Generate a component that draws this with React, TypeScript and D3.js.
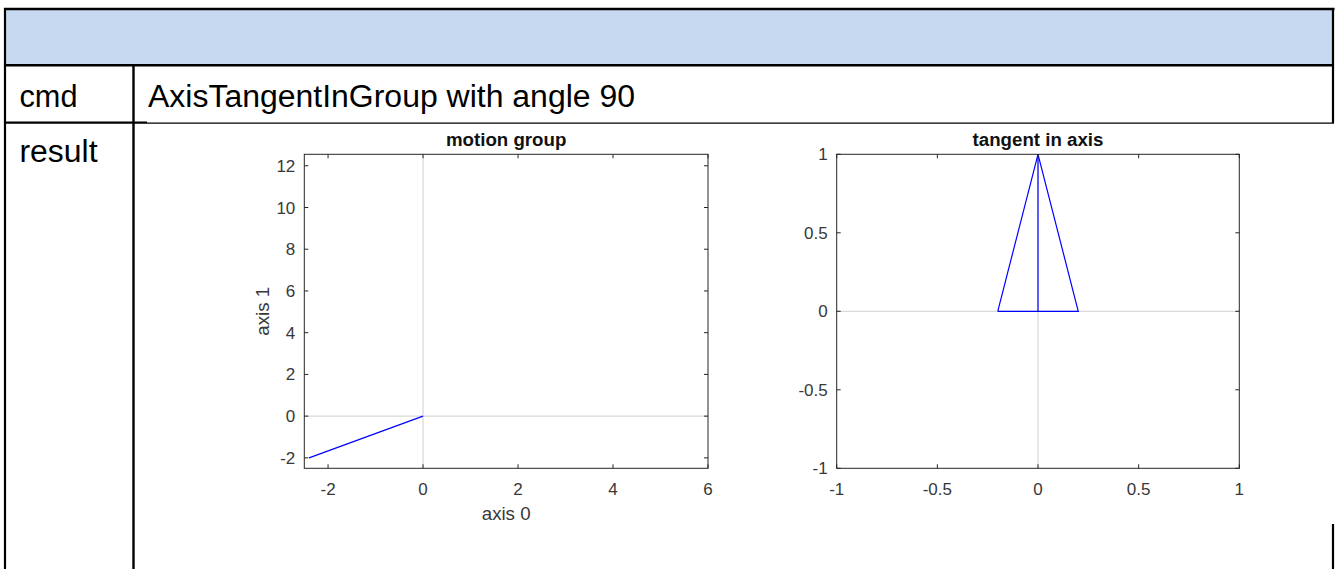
import React, { useEffect } from "react";
import * as d3 from "d3";

// ---- data ----
const headerCmdLabel = "cmd";
const headerResultLabel = "result";
const cmdText = "AxisTangentInGroup with angle 90";

const motionTitle = "motion group";
const motionXLabel = "axis 0";
const motionYLabel = "axis 1";
const motionXDomain = [-2.5, 6];
const motionYDomain = [-2.5, 12.55];
const motionXTicks = [-2, 0, 2, 4, 6];
const motionYTicks = [-2, 0, 2, 4, 6, 8, 10, 12];
const motionLineX = [-2.4, 0];
const motionLineY = [-2, 0];

const tangentTitle = "tangent in axis";
const tangentXDomain = [-1, 1];
const tangentYDomain = [-1, 1];
const tangentTicks = [-1, -0.5, 0, 0.5, 1];
const tangentTriX = [-0.2, 0, 0.2, -0.2];
const tangentTriY = [0, 1, 0, 0];
const tangentStemX = [0, 0];
const tangentStemY = [0, 1];

const FONT = "'Liberation Sans', Arial, Helvetica, sans-serif";
const AX = "#262626";
const TXT = "#383838";
const GRID = "#cfcfcf";
const BLUE = "#0000ff";

type Series = { xs: number[]; ys: number[] };

function Axes(props: {
  left: number; right: number; top: number; bottom: number;
  xDomain: number[]; yDomain: number[];
  xTicks: number[]; yTicks: number[];
  title: string; xLabel?: string; yLabel?: string;
  series: Series[];
}) {
  const { left, right, top, bottom, xDomain, yDomain, xTicks, yTicks, title, xLabel, yLabel, series } = props;
  const x = d3.scaleLinear().domain(xDomain).range([left, right]);
  const y = d3.scaleLinear().domain(yDomain).range([bottom, top]);
  const tl = 4;
  const line = d3.line<[number, number]>().x((d) => x(d[0])).y((d) => y(d[1]));
  const cx = (left + right) / 2;
  const cy = (top + bottom) / 2;
  return (
    <g>
      <rect x={left} y={top} width={right - left} height={bottom - top} fill="#fff" />
      {/* zero grid lines */}
      <line x1={x(0)} x2={x(0)} y1={top} y2={bottom} stroke={GRID} strokeWidth={1} />
      <line x1={left} x2={right} y1={y(0)} y2={y(0)} stroke={GRID} strokeWidth={1} />
      {series.map((s, i) => (
        <path key={i} d={line(s.xs.map((v, j) => [v, s.ys[j]] as [number, number])) || ""}
          fill="none" stroke={BLUE} strokeWidth={1.2} />
      ))}
      <rect x={left} y={top} width={right - left} height={bottom - top} fill="none" stroke={AX} strokeWidth={1} />
      {xTicks.map((t) => (
        <g key={"x" + t}>
          <line x1={x(t)} x2={x(t)} y1={bottom} y2={bottom - tl} stroke={AX} />
          <line x1={x(t)} x2={x(t)} y1={top} y2={top + tl} stroke={AX} />
          <text x={x(t)} y={bottom + 26.5} textAnchor="middle" fontSize={17} fill={TXT} fontFamily={FONT}>{String(t)}</text>
        </g>
      ))}
      {yTicks.map((t) => (
        <g key={"y" + t}>
          <line x1={left} x2={left + tl} y1={y(t)} y2={y(t)} stroke={AX} />
          <line x1={right} x2={right - tl} y1={y(t)} y2={y(t)} stroke={AX} />
          <text x={left - 9} y={y(t) + 6} textAnchor="end" fontSize={17} fill={TXT} fontFamily={FONT}>{String(t)}</text>
        </g>
      ))}
      <text x={cx} y={top - 8.5} textAnchor="middle" fontSize={18.7} fontWeight="bold" fill="#111" fontFamily={FONT}>{title}</text>
      {xLabel && (
        <text x={cx} y={bottom + 51.5} textAnchor="middle" fontSize={18.7} fill={TXT} fontFamily={FONT}>{xLabel}</text>
      )}
      {yLabel && (
        <text transform={`translate(${left - 35},${cy}) rotate(-90)`} textAnchor="middle" fontSize={18.7} fill={TXT} fontFamily={FONT}>{yLabel}</text>
      )}
    </g>
  );
}

export default function App() {
  useEffect(() => {
    document.body.style.margin = "0";
  }, []);
  return (
    <svg width={1337} height={569} viewBox="0 0 1337 569"
      style={{ position: "absolute", left: 0, top: 0, display: "block", background: "#fff" }}>
      <rect x={0} y={0} width={1337} height={569} fill="#fff" />
      {/* table */}
      <rect x={5} y={9} width={1328} height={56} fill="#c6d9f0" />
      <line x1={4} x2={1334.5} y1={9} y2={9} stroke="#000" strokeWidth={2.5} />
      <line x1={5} x2={5} y1={8} y2={569} stroke="#000" strokeWidth={2.2} />
      <line x1={1333} x2={1333} y1={8} y2={123} stroke="#000" strokeWidth={2.2} />
      <line x1={1333} x2={1333} y1={524} y2={569} stroke="#000" strokeWidth={2.2} />
      <line x1={4} x2={1334} y1={65.3} y2={65.3} stroke="#000" strokeWidth={2.4} />
      <line x1={4} x2={147} y1={122.6} y2={122.6} stroke="#000" strokeWidth={2.4} />
      <line x1={147} x2={1334} y1={123.2} y2={123.2} stroke="#000" strokeWidth={1.3} />
      <line x1={133.5} x2={133.5} y1={65} y2={569} stroke="#000" strokeWidth={2.4} />
      <text x={19.5} y={106.5} fontSize={31} fontFamily={FONT} fill="#000" textLength={58} lengthAdjust="spacingAndGlyphs">{headerCmdLabel}</text>
      <text x={148} y={106.5} fontSize={31} fontFamily={FONT} fill="#000" textLength={487} lengthAdjust="spacingAndGlyphs">{cmdText}</text>
      <text x={19.5} y={161.5} fontSize={31} fontFamily={FONT} fill="#000" textLength={78} lengthAdjust="spacingAndGlyphs">{headerResultLabel}</text>

      <Axes left={304.3} right={708} top={154.3} bottom={468.3}
        xDomain={motionXDomain} yDomain={motionYDomain}
        xTicks={motionXTicks} yTicks={motionYTicks}
        title={motionTitle} xLabel={motionXLabel} yLabel={motionYLabel}
        series={[{ xs: motionLineX, ys: motionLineY }]} />
      <Axes left={836.7} right={1239.3} top={154.3} bottom={468.3}
        xDomain={tangentXDomain} yDomain={tangentYDomain}
        xTicks={tangentTicks} yTicks={tangentTicks}
        title={tangentTitle}
        series={[{ xs: tangentTriX, ys: tangentTriY }, { xs: tangentStemX, ys: tangentStemY }]} />
    </svg>
  );
}
